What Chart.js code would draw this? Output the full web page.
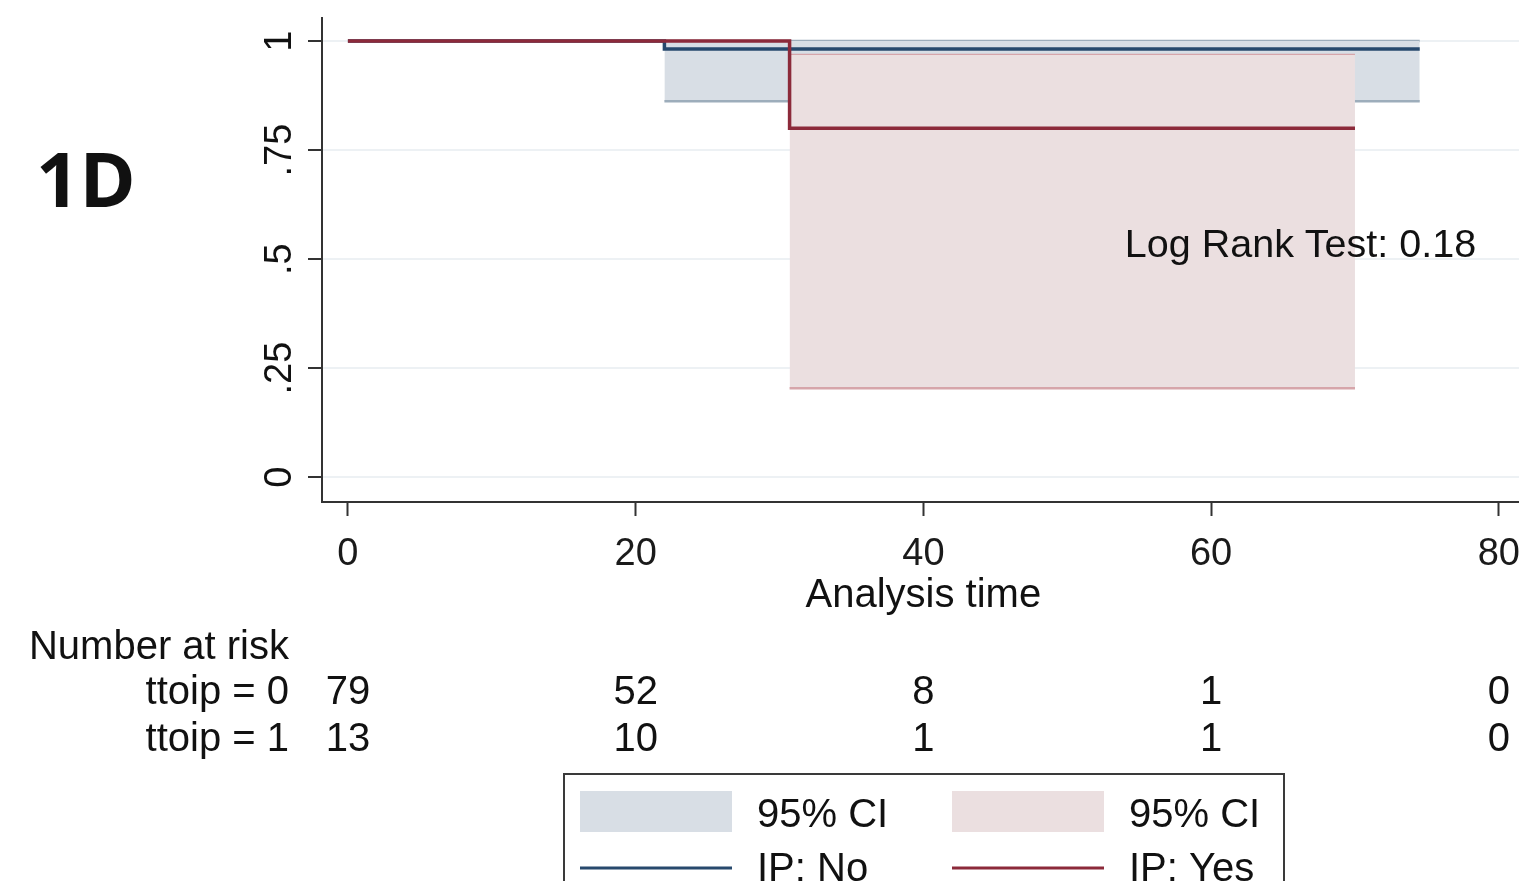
<!DOCTYPE html>
<html>
<head>
<meta charset="utf-8">
<script src="https://cdn.jsdelivr.net/npm/chart.js@4.4.1/dist/chart.umd.min.js"></script>
<style>
  html, body { margin: 0; padding: 0; background: #fff; overflow: hidden; }
  #wrap { width: 1519px; height: 881px; position: relative; }
</style>
</head>
<body>
<div id="wrap"><canvas id="km"></canvas></div>
<script>
// Kaplan-Meier estimates
const no_times = [0, 22, 74.5];
const no_surv = [1, 0.982, 0.982];
const yes_times = [0, 30.7, 70];
const yes_surv = [1, 0.8, 0.8];

// 95% confidence bands
const no_ci_times = [22, 74.5];
const no_ci_upper = [1, 1];
const no_ci_lower = [0.862, 0.862];
const yes_ci_times = [30.7, 70];
const yes_ci_upper = [0.968, 0.968];
const yes_ci_lower = [0.204, 0.204];

// axes
const x_ticks = [0, 20, 40, 60, 80];
const y_ticks = [0, 0.25, 0.5, 0.75, 1];
const y_tick_labels = ["0", ".25", ".5", ".75", "1"];

// number at risk table
const risk_groups = ["ttoip = 0", "ttoip = 1"];
const risk_no = [79, 52, 8, 1, 0];
const risk_yes = [13, 10, 1, 1, 0];

const log_rank_text = "Log Rank Test: 0.18";

const BLUE = "#27496d";
const RED = "#8c2a3a";
const BLUE_CI = "#d8dee5";
const BLUE_CI_EDGE = "#9dadbb";
const RED_CI = "#ebdfe0";
const RED_CI_EDGE = "#d6a5aa";
const FONT = '"Liberation Sans", Arial, sans-serif';

function pts(xs, ys) {
  return xs.map((x, i) => ({ x: x, y: ys[i] }));
}

Chart.defaults.font.family = FONT;
Chart.defaults.color = "#1a1a1a";

const extras = {
  id: "extras",
  afterDraw(chart) {
    const ctx = chart.ctx;
    const xs = chart.scales.x;
    const ys = chart.scales.y;
    ctx.save();
    ctx.fillStyle = "#111";

    // panel label
    ctx.font = 'bold 76px "Open Sans", sans-serif';
    ctx.textAlign = "left";
    ctx.textBaseline = "alphabetic";
    ctx.fillText("1D", 36, 207);

    // rotated y tick labels
    ctx.font = "38px " + FONT;
    y_ticks.forEach((v, i) => {
      ctx.save();
      ctx.translate(281, ys.getPixelForValue(v));
      ctx.rotate(-Math.PI / 2);
      ctx.textAlign = "center";
      ctx.textBaseline = "middle";
      ctx.fillText(y_tick_labels[i], 0, 0);
      ctx.restore();
    });

    // x axis title
    ctx.font = "40px " + FONT;
    ctx.textAlign = "center";
    ctx.textBaseline = "middle";
    ctx.fillText("Analysis time", xs.getPixelForValue(40), 596);

    // log rank annotation
    ctx.font = "39.5px " + FONT;
    ctx.textAlign = "left";
    ctx.fillText(log_rank_text, xs.getPixelForValue(54), ys.getPixelForValue(0.53));

    // number at risk
    ctx.font = "40px " + FONT;
    ctx.textAlign = "right";
    ctx.fillText("Number at risk", 289, 648);
    [risk_no, risk_yes].forEach((row, r) => {
      const y = 693 + r * 47;
      ctx.textAlign = "right";
      ctx.fillText(risk_groups[r], 289, y);
      ctx.textAlign = "center";
      row.forEach((n, i) => ctx.fillText(String(n), xs.getPixelForValue(x_ticks[i]), y));
    });

    // legend
    ctx.strokeStyle = "#3a3a3a";
    ctx.lineWidth = 2;
    ctx.strokeRect(564, 774, 720, 140);
    ctx.fillStyle = BLUE_CI;
    ctx.fillRect(580, 791, 152, 41);
    ctx.fillStyle = RED_CI;
    ctx.fillRect(952, 791, 152, 41);
    ctx.lineWidth = 3;
    ctx.strokeStyle = BLUE;
    ctx.beginPath(); ctx.moveTo(580, 868); ctx.lineTo(732, 868); ctx.stroke();
    ctx.strokeStyle = RED;
    ctx.beginPath(); ctx.moveTo(952, 868); ctx.lineTo(1104, 868); ctx.stroke();
    ctx.fillStyle = "#111";
    ctx.textAlign = "left";
    ctx.fillText("95% CI", 757, 816);
    ctx.fillText("95% CI", 1129, 816);
    ctx.fillText("IP: No", 757, 870);
    ctx.fillText("IP: Yes", 1129, 870);
    ctx.restore();
  }
};

new Chart(document.getElementById("km"), {
  type: "scatter",
  data: {
    datasets: [
      {
        label: "IP: Yes",
        data: pts(yes_times, yes_surv),
        showLine: true, stepped: true,
        borderColor: RED, borderWidth: 3.5, pointRadius: 0, fill: false, order: 1,
      },
      {
        label: "IP: No",
        data: pts(no_times, no_surv),
        showLine: true, stepped: true,
        borderColor: BLUE, borderWidth: 3.5, pointRadius: 0, fill: false, order: 2,
      },
      {
        label: "95% CI yes upper",
        data: pts(yes_ci_times, yes_ci_upper),
        showLine: true, borderColor: RED_CI_EDGE, borderWidth: 2.5, pointRadius: 0,
        fill: false, order: 4,
      },
      {
        label: "95% CI yes lower",
        data: pts(yes_ci_times, yes_ci_lower),
        showLine: true, borderColor: RED_CI_EDGE, borderWidth: 2.5, pointRadius: 0,
        backgroundColor: RED_CI, fill: 2, order: 3,
      },
      {
        label: "95% CI no upper",
        data: pts(no_ci_times, no_ci_upper),
        showLine: true, borderColor: BLUE_CI_EDGE, borderWidth: 2.5, pointRadius: 0,
        fill: false, order: 6,
      },
      {
        label: "95% CI no lower",
        data: pts(no_ci_times, no_ci_lower),
        showLine: true, borderColor: BLUE_CI_EDGE, borderWidth: 2.5, pointRadius: 0,
        backgroundColor: BLUE_CI, fill: 4, order: 5,
      },
    ],
  },
  options: {
    responsive: true,
    maintainAspectRatio: false,
    animation: false,
    layout: { padding: { top: 18, right: 0, bottom: 0, left: 0 } },
    plugins: {
      legend: { display: false },
      tooltip: { enabled: false },
    },
    scales: {
      x: {
        type: "linear",
        min: -1.8,
        max: 81.4,
        afterBuildTicks: (s) => { s.ticks = x_ticks.map((v) => ({ value: v })); },
        afterFit: (s) => { s.height = 379; s.paddingLeft = 0; s.paddingRight = 0; },
        ticks: { font: { size: 38 }, color: "#1a1a1a", padding: 16 },
        grid: { color: "rgba(0,0,0,0)", tickColor: "#333", tickWidth: 2, tickLength: 14, drawTicks: true },
        border: { display: true, color: "#333", width: 2 },
      },
      y: {
        type: "linear",
        min: -0.057,
        max: 1.053,
        afterBuildTicks: (s) => { s.ticks = y_ticks.map((v) => ({ value: v })); },
        afterFit: (s) => { s.width = 322; s.paddingTop = 0; s.paddingBottom = 0; },
        ticks: { display: false },
        grid: { color: "rgba(214,224,230,0.45)", lineWidth: 2, tickColor: "#333", tickWidth: 2, tickLength: 14, drawTicks: true },
        border: { display: true, color: "#333", width: 2 },
      },
    },
  },
  plugins: [extras],
});
</script>
</body>
</html>
